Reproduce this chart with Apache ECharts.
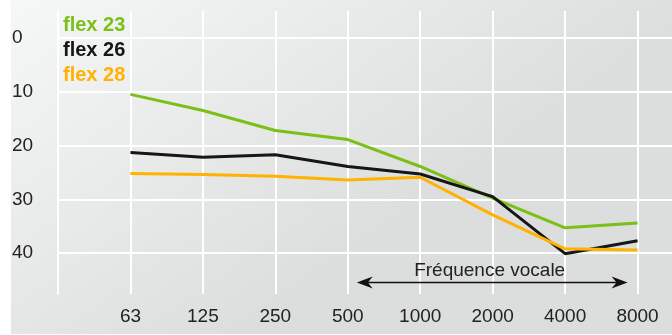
<!DOCTYPE html>
<html><head><meta charset="utf-8">
<script src="https://cdn.jsdelivr.net/npm/echarts@6/dist/echarts.min.js"></script>
<style>html,body{margin:0;padding:0;background:#fff}#c{width:672px;height:335px}</style>
</head><body><div id="c"></div>
<script>
const categories = ['', '63', '125', '250', '500', '1000', '2000', '4000', '8000', ''];
const flex23 = [null, 10.5, 13.5, 17.2, 18.9, 23.9, 29.8, 35.3, 34.4, null];
const flex26 = [null, 21.3, 22.2, 21.7, 23.9, 25.3, 29.5, 40.1, 37.7, null];
const flex28 = [null, 25.2, 25.4, 25.7, 26.4, 25.9, 32.9, 39.2, 39.4, null];
const yTicks = [0, 10, 20, 30, 40];
const seriesNames = ['flex 23', 'flex 26', 'flex 28'];
const colors = ['#7bbf17', '#161616', '#ffb200'];
const annotation = 'Fréquence vocale';
const arrowLevel = 45.3;

const font = '"Liberation Sans", Arial, Helvetica, sans-serif';
const chart = echarts.init(document.getElementById('c'), null, {renderer: 'canvas'});
const mk = (name, data, color, extra) => Object.assign({
  name, type: 'line', data, symbol: 'none', smooth: false, connectNulls: false,
  lineStyle: {color, width: 3}, itemStyle: {color}, z: 5
}, extra || {});
const bg = {
  type: 'rect', z: -10, silent: true,
  shape: {x: 11, y: 0, width: 661, height: 334},
  style: {fill: new echarts.graphic.LinearGradient(0, 0, 0.35, 1, [
    {offset: 0, color: '#f6f7f7'}, {offset: 1, color: '#dcdddd'}])}
};

chart.setOption({
  animation: false,
  backgroundColor: 'transparent',
  graphic: [bg],
  grid: {left: 58, top: 11, width: 652, height: 283, containLabel: false, outerBoundsMode: 'none'},
  legend: {
    orient: 'vertical', left: 53, top: 10, itemGap: 5, itemWidth: 0, itemHeight: 0,
    icon: 'none', selectedMode: false,
    data: seriesNames.map((n, i) => ({name: n, textStyle: {color: colors[i]}})),
    textStyle: {fontFamily: font, fontSize: 20, fontWeight: 'bold'}
  },
  xAxis: {
    type: 'category', data: categories, boundaryGap: false,
    axisLine: {show: true, lineStyle: {color: '#ffffff', width: 2}},
    axisTick: {show: false},
    splitLine: {show: true, lineStyle: {color: '#ffffff', width: 2}},
    axisLabel: {color: '#222', fontFamily: font, fontSize: 19, margin: 13, interval: 0}
  },
  yAxis: {
    type: 'value', inverse: true, min: -5, max: 47.6, interval: 5,
    axisLine: {show: true, lineStyle: {color: '#ffffff', width: 2}},
    axisTick: {show: false},
    splitLine: {show: false},
    axisLabel: {
      color: '#222', fontFamily: font, fontSize: 19, align: 'left', margin: 46,
      padding: [6, 0, 0, 0],
      formatter: v => (yTicks.indexOf(v) >= 0 ? String(v) : '')
    }
  },
  series: [
    mk(seriesNames[0], flex23, colors[0], {
      markLine: {
        silent: true, symbol: 'none', z: 1,
        lineStyle: {color: '#ffffff', width: 2, type: 'solid'},
        label: {show: false},
        data: yTicks.map(v => ({yAxis: v}))
      }
    }),
    mk(seriesNames[1], flex26, colors[1]),
    mk(seriesNames[2], flex28, colors[2])
  ]
});

// annotation: double arrow + label between 500 and 8000
const pA = chart.convertToPixel({gridIndex: 0}, ['500', arrowLevel]);
const pB = chart.convertToPixel({gridIndex: 0}, ['8000', arrowLevel]);
const x1 = pA[0] + 9, x2 = pB[0] - 10, y = Math.round(pA[1]) + 0.5;
chart.setOption({
  graphic: [bg, {
    type: 'line', z: 10, silent: true,
    shape: {x1: x1 + 8, y1: y, x2: x2 - 8, y2: y},
    style: {stroke: '#111', lineWidth: 1.3}
  }, {
    type: 'polygon', z: 10, silent: true,
    shape: {points: [[x1, y], [x1 + 16, y - 6], [x1 + 11, y], [x1 + 16, y + 6]]},
    style: {fill: '#111'}
  }, {
    type: 'polygon', z: 10, silent: true,
    shape: {points: [[x2, y], [x2 - 16, y - 6], [x2 - 11, y], [x2 - 16, y + 6]]},
    style: {fill: '#111'}
  }, {
    type: 'text', z: 10, silent: true,
    x: (pA[0] + pB[0]) / 2 - 3, y: y - 12,
    style: {text: annotation, fill: '#222', font: '19px ' + font, align: 'center', verticalAlign: 'middle'}
  }]
});
</script></body></html>
